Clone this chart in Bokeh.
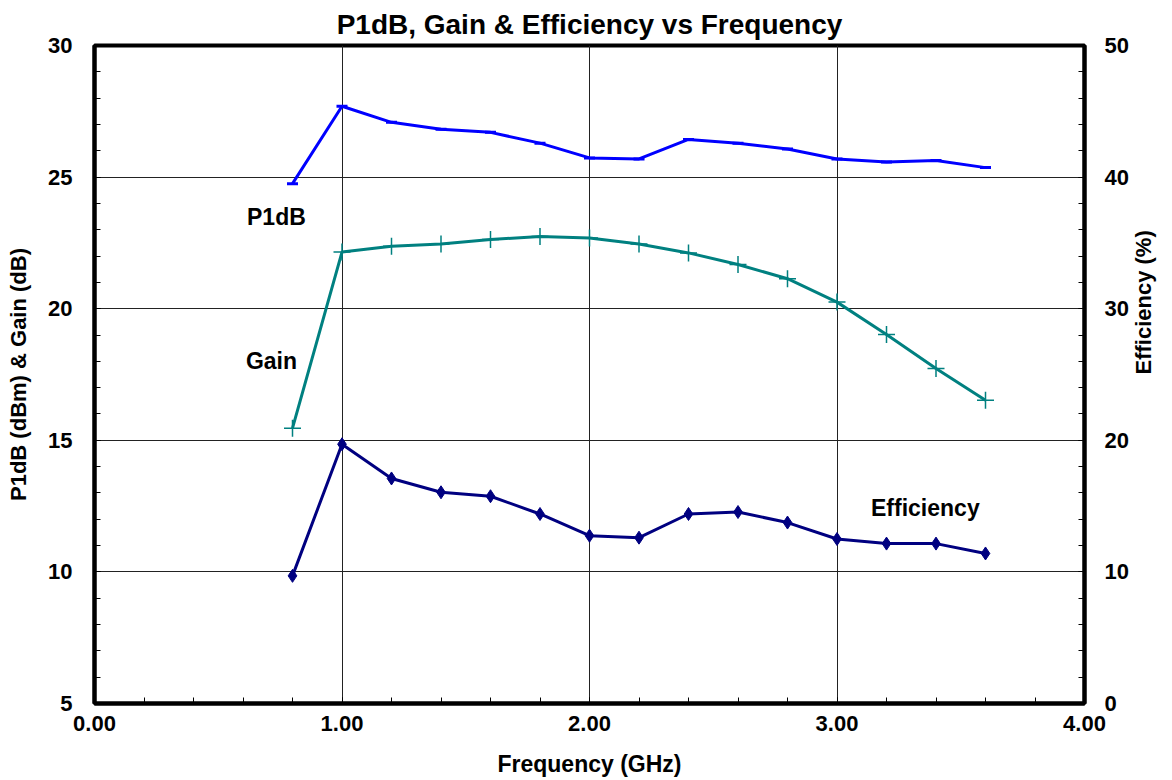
import math
from bokeh.plotting import figure
from bokeh.models import (Range1d, LinearAxis, SingleIntervalTicker, PrintfTickFormatter,
                          Label, Title)
from bokeh.embed import file_html
from bokeh.resources import INLINE

# ---- data ----
freq = [0.8, 1.0, 1.2, 1.4, 1.6, 1.8, 2.0, 2.2, 2.4, 2.6, 2.8, 3.0, 3.2, 3.4, 3.6]
p1db = [24.75, 27.69, 27.08, 26.82, 26.70, 26.29, 25.73, 25.69, 26.43, 26.29, 26.07, 25.69, 25.57, 25.63, 25.36]
gain = [15.46, 22.15, 22.37, 22.46, 22.63, 22.74, 22.69, 22.46, 22.12, 21.68, 21.14, 20.25, 19.02, 17.73, 16.52]
efficiency = [9.7, 19.7, 17.1, 16.05, 15.75, 14.4, 12.75, 12.6, 14.4, 14.55, 13.75, 12.5, 12.15, 12.15, 11.4]

title_text = "P1dB, Gain & Efficiency vs Frequency"
x_label = "Frequency (GHz)"
y_label = "P1dB (dBm) & Gain (dB)"
y2_label = "Efficiency (%)"
series_labels = [("P1dB", 0.735, 23.47), ("Gain", 0.715, 18.0), ("Efficiency", 3.357, 12.44)]

FONT = "Liberation Sans"
W, H = 1172, 780

p = figure(width=W, height=H, output_backend="svg", toolbar_location=None,
           x_range=Range1d(0, 4), y_range=Range1d(5, 30),
           min_border_left=94, min_border_right=88, min_border_top=44, min_border_bottom=77,
           x_axis_location="below", y_axis_location="left")
p.title = None
p.extra_y_ranges = {"eff": Range1d(0, 50)}

t = Title(text=title_text, align="center", text_font=FONT, text_font_size="28px",
          text_font_style="bold", text_color="black", standoff=12)
p.add_layout(t, "above")

p.background_fill_color = "white"
p.border_fill_color = "white"
p.outline_line_color = "black"
p.outline_line_width = 4

# axes
def style_axis(ax):
    ax.axis_line_width = 4
    ax.axis_line_color = "black"
    ax.major_tick_in = 6
    ax.major_tick_out = 0
    ax.minor_tick_in = 6
    ax.minor_tick_out = 0
    ax.major_tick_line_color = "black"
    ax.minor_tick_line_color = "black"
    ax.major_tick_line_width = 1
    ax.minor_tick_line_width = 1
    ax.major_label_text_font = FONT
    ax.major_label_text_font_size = "22px"
    ax.major_label_text_font_style = "bold"
    ax.major_label_text_color = "black"
    ax.axis_label_text_font = FONT
    ax.axis_label_text_font_size = "22px"
    ax.axis_label_text_font_style = "bold"
    ax.axis_label_text_color = "black"

xa = p.xaxis[0]
xa.ticker = SingleIntervalTicker(interval=1, num_minor_ticks=5)
xa.formatter = PrintfTickFormatter(format="%.2f")
xa.axis_label = x_label
style_axis(xa)
xa.axis_label_text_font_size = "23px"
xa.major_label_standoff = 12
xa.axis_label_standoff = 17

ya = p.yaxis[0]
ya.ticker = SingleIntervalTicker(interval=5, num_minor_ticks=5)
ya.axis_label = y_label
style_axis(ya)
ya.major_label_standoff = 22
ya.axis_label_standoff = 14

ya2 = LinearAxis(y_range_name="eff", axis_label=y2_label,
                 ticker=SingleIntervalTicker(interval=10, num_minor_ticks=5))
style_axis(ya2)
ya2.major_label_standoff = 20
ya2.axis_label_standoff = 12
if hasattr(ya2, "axis_label_orientation"):
    ya2.axis_label_orientation = math.pi / 2
p.add_layout(ya2, "right")

# grid
p.xgrid.ticker = xa.ticker
p.ygrid.ticker = ya.ticker
for g in (p.xgrid[0], p.ygrid[0]):
    g.grid_line_color = "#222222"
    g.grid_line_width = 1

# series
BLUE, TEAL, NAVY = "#0000FF", "#008080", "#000080"
p.line(freq, p1db, line_color=BLUE, line_width=3)
p.scatter(freq, p1db, marker="dash", size=11, line_color=BLUE, line_width=3)

p.line(freq, gain, line_color=TEAL, line_width=3)
p.scatter(freq, gain, marker="cross", size=17, line_color=TEAL, line_width=1.5)

p.line(freq, efficiency, line_color=NAVY, line_width=3, y_range_name="eff")
p.scatter(freq, efficiency, marker="diamond", size=13, fill_color=NAVY, line_color=NAVY,
          y_range_name="eff")

for txt, lx, ly in series_labels:
    p.add_layout(Label(x=lx, y=ly, text=txt, text_font=FONT, text_font_size="23px",
                       text_font_style="bold", text_align="center", text_baseline="middle",
                       text_color="black"))

open("out.html", "w").write(file_html(p, INLINE))
